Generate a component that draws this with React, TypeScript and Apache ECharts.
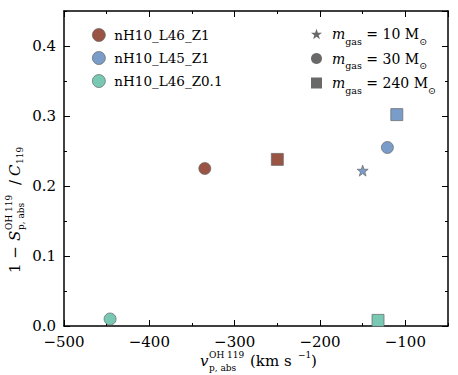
import React, { useEffect, useRef } from "react";
import * as echarts from "echarts";

// ---- data ----
const simNames = ["nH10_L46_Z1", "nH10_L45_Z1", "nH10_L46_Z0.1"];
const simColors = ["#9a5444", "#7a9cc8", "#78c8b4"];
// velocities (km/s), values, gas particle mass (Msun)
const L46Z1_v = [-335, -250];
const L46Z1_y = [0.225, 0.238];
const L46Z1_m = [30, 240];
const L45Z1_v = [-150, -121, -110];
const L45Z1_y = [0.222, 0.255, 0.302];
const L45Z1_m = [10, 30, 240];
const L46Z01_v = [-446, -132];
const L46Z01_y = [0.01, 0.008];
const L46Z01_m = [30, 240];
const massValues = [10, 30, 240];
const massNames = ["m_gas = 10 M☉", "m_gas = 30 M☉", "m_gas = 240 M☉"];
const xTicks = [-500, -400, -300, -200, -100];
const yTicks = [0.0, 0.1, 0.2, 0.3, 0.4];

const STAR =
  "path://M10,0L12.35,6.76L19.51,6.91L13.8,11.24L15.88,18.09L10,14L4.12,18.09L6.2,11.24L0.49,6.91L7.65,6.76Z";
const massSymbol: Record<number, string> = { 10: STAR, 30: "circle", 240: "rect" };
const massSize: Record<number, number> = { 10: 11, 30: 12, 240: 12 };

const FONT = "DejaVu Serif";

function points(v: number[], y: number[], m: number[]) {
  return v.map((x, i) => ({
    value: [x, y[i]],
    symbol: massSymbol[m[i]],
    symbolSize: massSize[m[i]],
  }));
}

export default function App() {
  const ref = useRef<HTMLDivElement>(null);
  useEffect(() => {
    const chart = echarts.init(ref.current!, null, { renderer: "svg" });
    const simData = [
      points(L46Z1_v, L46Z1_y, L46Z1_m),
      points(L45Z1_v, L45Z1_y, L45Z1_m),
      points(L46Z01_v, L46Z01_y, L46Z01_m),
    ];
    const grid = { left: 64, right: 10, top: 11, bottom: 49 };
    const xMin = xTicks[0];
    const xMax = -50;
    const yMin = yTicks[0];
    const yMax = 0.45;
    const minus = (v: number) => (v < 0 ? "\u2212" + Math.abs(v) : String(v));

    const mkX = (pos: string, interval: number, len: number, labels: boolean, line: boolean) => ({
      type: "value",
      position: pos,
      min: xMin,
      max: xMax,
      interval,
      axisLine: { show: line, onZero: false, lineStyle: { color: "#000", width: 1.5 } },
      axisTick: { show: true, inside: true, length: len, lineStyle: { color: "#000", width: 1 } },
      axisLabel: {
        show: labels,
        showMaxLabel: false,
        formatter: (v: number) => minus(v),
        color: "#000",
        fontFamily: FONT,
        fontSize: 15,
        lineHeight: 13,
        margin: 9,
      },
      splitLine: { show: false },
    });
    const mkY = (pos: string, interval: number, len: number, labels: boolean, line: boolean) => ({
      type: "value",
      position: pos,
      min: yMin,
      max: yMax,
      interval,
      axisLine: { show: line, onZero: false, lineStyle: { color: "#000", width: 1.5 } },
      axisTick: { show: true, inside: true, length: len, lineStyle: { color: "#000", width: 1 } },
      axisLabel: {
        show: labels,
        showMaxLabel: false,
        formatter: (v: number) => v.toFixed(1),
        color: "#000",
        fontFamily: FONT,
        fontSize: 15,
        lineHeight: 12,
        margin: 8,
      },
      splitLine: { show: false },
    });

    const series: any[] = simNames.map((n, i) => ({
      name: n,
      type: "scatter",
      xAxisIndex: 0,
      yAxisIndex: 0,
      data: simData[i],
      itemStyle: { color: simColors[i], borderColor: "#666", borderWidth: 0.7, opacity: 1 },
      z: 5,
    }));
    massNames.forEach((n) => {
      series.push({
        name: n,
        type: "scatter",
        xAxisIndex: 0,
        yAxisIndex: 0,
        data: [],
        itemStyle: { color: "#444" },
      });
    });

    const massRich = {
      i: { fontFamily: FONT, fontStyle: "italic", fontSize: 14, lineHeight: 24, color: "#000" },
      n: { fontFamily: FONT, fontSize: 14, lineHeight: 24, color: "#000" },
      sub: { fontFamily: FONT, fontSize: 9.5, lineHeight: 12, verticalAlign: "bottom", color: "#000" },
    };

    const sub = (t: string, x: number, y: number, size = 10, style = "normal") => ({
      type: "text",
      x,
      y,
      style: {
        text: t,
        fill: "#000",
        font: `${style} ${size}px "${FONT}"`,
        textVerticalAlign: "middle",
        textAlign: "left",
      },
    });

    chart.setOption({
      animation: false,
      grid,
      xAxis: [
        mkX("bottom", 100, 6, true, true),
        mkX("bottom", 50, 3, false, false),
        mkX("top", 100, 6, false, true),
        mkX("top", 50, 3, false, false),
      ],
      yAxis: [
        mkY("left", 0.1, 6, true, true),
        mkY("left", 0.05, 3, false, false),
        mkY("right", 0.1, 6, false, true),
        mkY("right", 0.05, 3, false, false),
      ],
      legend: [
        {
          data: simNames.map((n) => ({ name: n, icon: "circle" })),
          orient: "vertical",
          left: 87,
          top: 19,
          itemWidth: 13,
          itemHeight: 13,
          itemGap: 1,
          selectedMode: false,
          itemStyle: { borderColor: "#666", borderWidth: 0.7 },
          textStyle: {
            fontFamily: FONT,
            fontSize: 13.5,
            color: "#000",
            lineHeight: 22,
            padding: [0, 0, 0, 4],
          },
        },
        {
          data: massNames.map((n, i) => ({
            name: n,
            icon: massSymbol[massValues[i]],
            itemStyle: { borderWidth: 0 },
          })),
          orient: "vertical",
          left: 306,
          top: 22,
          itemWidth: 11,
          itemHeight: 11,
          itemGap: 5.5,
          selectedMode: false,
          formatter: (name: string) => {
            const k = massNames.indexOf(name);
            return `{i|m}{sub|gas}{n| = ${massValues[k]} M}{sub|⊙}`;
          },
          textStyle: { padding: [0, 0, 0, 5], rich: massRich },
        },
      ],
      graphic: [
        {
          type: "group",
          x: 200,
          y: 361,
          children: [
            sub("v", 0, 0, 15, "italic"),
            sub("OH 119", 9, -6, 9),
            sub("p, abs", 9, 7, 9),
            sub("(km s", 50, 0, 15),
            sub("\u22121", 98, -6, 9),
            sub(")", 111, 0, 15),
          ],
        },
        {
          type: "group",
          x: 15,
          y: 273,
          rotation: Math.PI / 2,
          children: [
            sub("1 \u2212 ", 0, 0, 15),
            sub("S", 32, 0, 15, "italic"),
            sub("OH 119", 43, -6, 9),
            sub("p, abs", 43, 6, 9),
            sub("/", 88, 0, 15),
            sub("C", 97, 0, 15, "italic"),
            sub("119", 109, 5, 9),
          ],
        },
      ],
      series,
    });
    return () => chart.dispose();
  }, []);
  return (
    <div
      ref={ref}
      style={{ position: "fixed", left: 0, top: 0, width: 458, height: 375, background: "#fff" }}
    />
  );
}
